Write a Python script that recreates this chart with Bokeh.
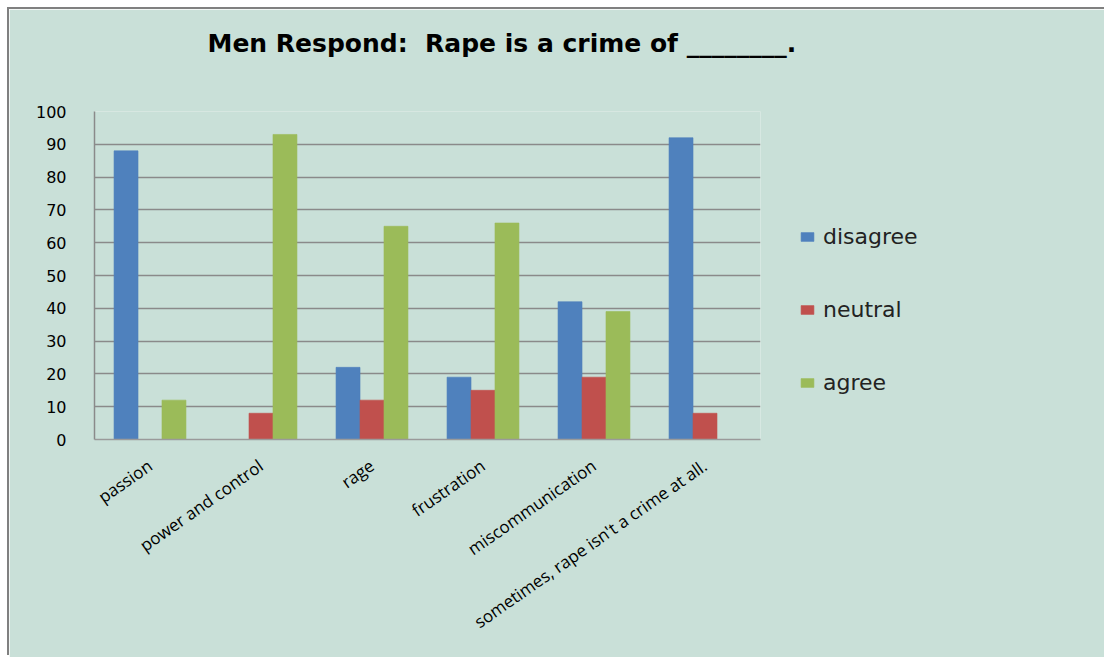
from bokeh.plotting import figure
from bokeh.models import FactorRange, Legend, LegendItem, ColumnDataSource, Title
from bokeh.transform import dodge
from bokeh.embed import file_html
from bokeh.resources import INLINE

categories = ["passion", "power and control", "rage", "frustration",
              "miscommunication", "sometimes, rape isn't a crime at all."]
disagree = [88, 0, 22, 19, 42, 92]
neutral = [0, 8, 12, 15, 19, 8]
agree = [12, 93, 65, 66, 39, 0]
series_names = ["disagree", "neutral", "agree"]
colors = ["#4F81BD", "#C0504D", "#9BBB59"]
title_text = "Men Respond:\u00a0\u00a0Rape is a crime of ________."

BG = "#C9E0D8"
src = ColumnDataSource(dict(cat=categories, disagree=disagree, neutral=neutral, agree=agree))

p = figure(x_range=FactorRange(*categories, range_padding=0), y_range=(0, 100),
           frame_width=666, frame_height=328, title_location=None,
           min_border_left=85, min_border_right=344, min_border_top=102, min_border_bottom=218,
           output_backend="svg", toolbar_location=None,
           background_fill_color=BG, border_fill_color=BG,
           outline_line_color=None, margin=(9, 0, 0, 9),
           styles={"box-shadow": "-2px -2px 0 0 #808080"})

# spacer between frame and title
p.add_layout(Title(text="\u00a0", text_font_size="46px", text_color=BG, standoff=0), "above")
p.add_layout(Title(text=title_text, align="left", offset=113, standoff=0,
                   text_font="DejaVu Sans", text_font_style="bold",
                   text_font_size="25px", text_color="#000000"), "above")

bw = 0.216
renderers = []
for i, (name, col) in enumerate(zip(series_names, colors)):
    r = p.vbar(x=dodge("cat", (i - 1) * bw, range=p.x_range), top=name, width=bw,
               source=src, fill_color=col, line_color=col, line_alpha=0.6, line_width=1)
    renderers.append(r)

p.xgrid.grid_line_color = None
p.ygrid.grid_line_color = "#8A8A8A"
p.ygrid.grid_line_width = 1.5
p.yaxis.ticker = list(range(0, 101, 10))
p.yaxis.axis_line_color = "#8A8A8A"
p.yaxis.axis_line_width = 1.5
p.yaxis.major_tick_line_color = None
p.yaxis.minor_tick_line_color = None
p.yaxis.major_label_standoff = 22
p.yaxis.major_label_text_font = "DejaVu Sans"
p.yaxis.major_label_text_font_size = "16px"
p.yaxis.major_label_text_color = "#000000"

p.xaxis.axis_line_color = "#9A9A9A"
p.xaxis.axis_line_width = 1.5
p.xaxis.major_tick_line_color = None
p.xaxis.minor_tick_line_color = None
p.xaxis.major_label_orientation = 0.61
p.xaxis.major_label_standoff = 18
p.xaxis.major_label_text_font = "Open Sans"
p.xaxis.major_label_text_font_size = "17px"
p.xaxis.major_label_text_color = "#000000"

items = [LegendItem(label=n, renderers=[r]) for n, r in zip(series_names, renderers)]
legend = Legend(items=items, location=(39, 44), orientation="vertical",
                glyph_width=16, glyph_height=11, label_height=20, spacing=48,
                label_text_font="DejaVu Sans", label_text_font_size="22px",
                label_text_color="#222222", label_standoff=8,
                background_fill_alpha=0, border_line_color=None, padding=0, margin=0)
p.add_layout(legend, "right")

open("out.html", "w").write(file_html(p, INLINE))
